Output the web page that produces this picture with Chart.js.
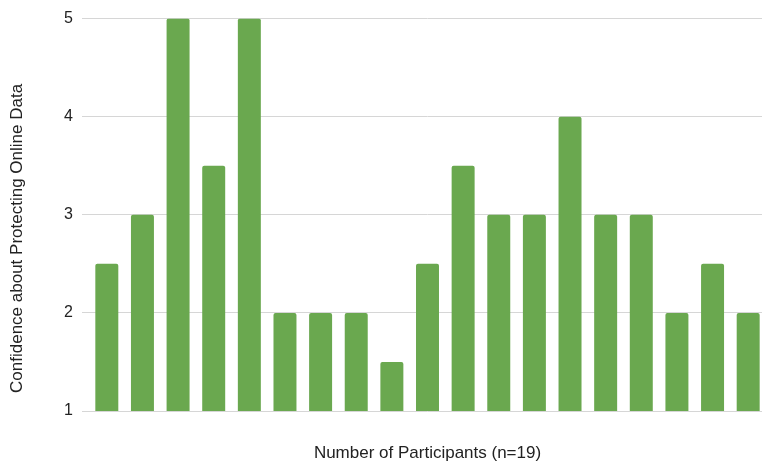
<!DOCTYPE html>
<html>
<head>
<meta charset="utf-8">
<script src="https://cdn.jsdelivr.net/npm/chart.js@4"></script>
<style>
  html, body { margin: 0; padding: 0; background: #fff; overflow: hidden; }
  #wrap { width: 762px; height: 466px; overflow: hidden; }
  canvas { display: block; }
</style>
</head>
<body>
<div id="wrap"><canvas id="c" width="770" height="466"></canvas></div>
<script>
// One bar per participant
const participants = ['1','2','3','4','5','6','7','8','9','10','11','12','13','14','15','16','17','18','19'];
// Self-rated confidence (scale 1-5)
const confidence = [2.5, 3, 5, 3.5, 5, 2, 2, 2, 1.5, 2.5, 3.5, 3, 3, 4, 3, 3, 2, 2.5, 2];
const yTicks = [1, 2, 3, 4, 5];

const xTitle = 'Number of Participants (n=19)';
// trailing spaces nudge the rotated title a little lower along the axis
const yTitle = 'Confidence about Protecting Online Data' + '\u00a0'.repeat(10);

const FONT = 'Liberation Sans, Arial, sans-serif';

new Chart(document.getElementById('c'), {
  type: 'bar',
  data: {
    labels: participants,
    datasets: [{
      data: confidence,
      backgroundColor: '#6aa84f',
      borderWidth: 0,
      borderRadius: { topLeft: 2, topRight: 2, bottomLeft: 0, bottomRight: 0 },
      borderSkipped: false,
      barPercentage: 0.645,
      categoryPercentage: 1
    }]
  },
  options: {
    responsive: false,
    animation: false,
    layout: { padding: { top: 17, right: 4, bottom: 2.6, left: 0 } },
    plugins: { legend: { display: false }, tooltip: { enabled: false } },
    scales: {
      x: {
        grid: { display: false, drawTicks: false },
        border: { display: false },
        ticks: { display: false },
        title: {
          display: true, text: xTitle, color: '#222',
          font: { family: FONT, size: 17 },
          padding: { top: 32, bottom: 0 }
        }
      },
      y: {
        min: yTicks[0],
        max: yTicks[yTicks.length - 1],
        afterBuildTicks: (s) => { s.ticks = yTicks.map(v => ({ value: v })); },
        afterFit: (s) => { s.width = 89; },
        grid: { color: '#d6d6d6', lineWidth: 1, drawTicks: true, tickLength: 7 },
        border: { display: false },
        ticks: { color: '#222', padding: 9, font: { family: FONT, size: 16 } },
        title: {
          display: true, text: yTitle, color: '#222',
          font: { family: FONT, size: 17 },
          padding: { top: 7, bottom: 0 }
        }
      }
    }
  }
});
</script>
</body>
</html>
